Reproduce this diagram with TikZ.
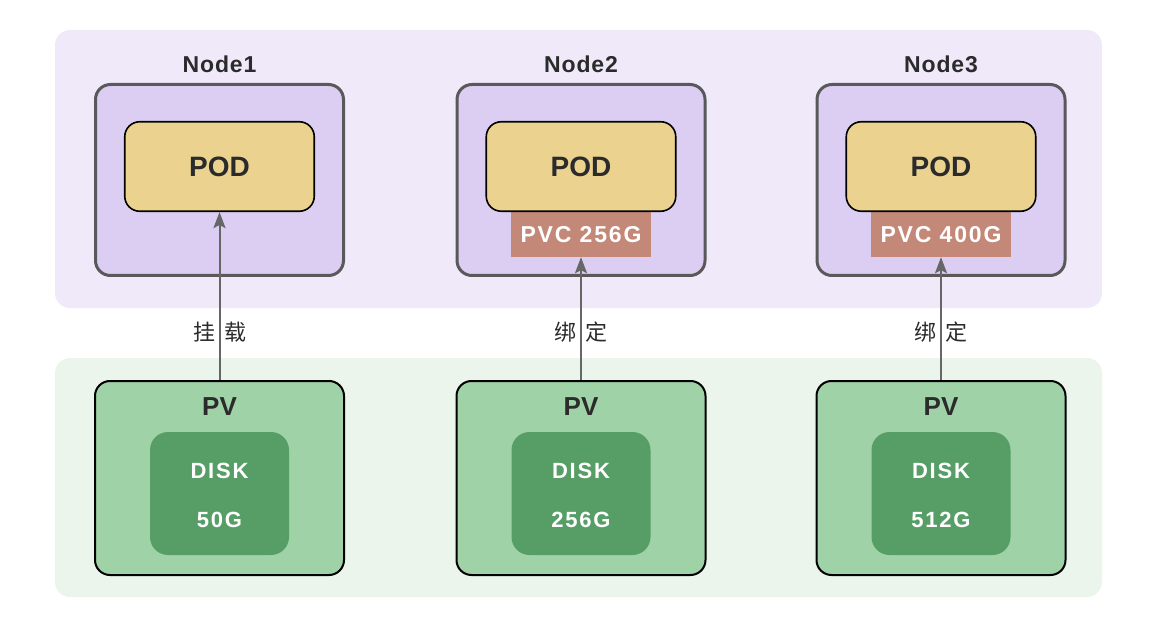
\documentclass[tikz,border=0pt]{standalone}
\usepackage{fontspec}
\setmainfont{Liberation Sans}
\newfontfamily\cjk{Noto Sans CJK SC}
\newfontfamily\spaced[LetterSpace=8]{Liberation Sans}
\newfontfamily\lspaced[LetterSpace=4]{Liberation Sans}
\usetikzlibrary{arrows.meta}
\definecolor{bgpurple}{HTML}{F0E9FA}
\definecolor{nodefill}{HTML}{DCCEF3}
\definecolor{nodeline}{HTML}{595959}
\definecolor{podfill}{HTML}{EBD28F}
\definecolor{pvcfill}{HTML}{C38878}
\definecolor{bggreen}{HTML}{EBF5EB}
\definecolor{pvfill}{HTML}{A0D2A8}
\definecolor{diskfill}{HTML}{579E66}
\definecolor{txt}{HTML}{2B2B2B}
\definecolor{arrowc}{HTML}{666666}
\tikzset{
  bg/.style={rectangle, rounded corners=15pt, draw=none, inner sep=0pt},
  nodebox/.style={rectangle, rounded corners=15pt, draw=nodeline, line width=3pt, fill=nodefill,
    minimum width=248pt, minimum height=191pt, inner sep=0pt},
  podbox/.style={rectangle, rounded corners=15pt, draw=black, line width=1.6pt, fill=podfill,
    minimum width=189.5pt, minimum height=89.5pt, inner sep=0pt, text=txt, font=\bfseries\fontsize{28}{32}\selectfont},
  pvcbox/.style={rectangle, fill=pvcfill, minimum width=140pt, minimum height=45pt, inner sep=0pt,
    text=white, font=\spaced\bfseries\fontsize{23}{26}\selectfont},
  pvbox/.style={rectangle, rounded corners=15pt, draw=black, line width=2pt, fill=pvfill,
    minimum width=249pt, minimum height=194pt, inner sep=0pt},
  diskbox/.style={rectangle, rounded corners=18pt, fill=diskfill, minimum width=139pt, minimum height=123pt, inner sep=0pt},
  nodelabel/.style={text=txt, font=\lspaced\bfseries\fontsize{23}{26}\selectfont, inner sep=0pt},
  pvlabel/.style={text=txt, font=\bfseries\fontsize{26}{30}\selectfont, inner sep=0pt},
  disklabel/.style={text=white, font=\spaced\bfseries\fontsize{22}{26}\selectfont, inner sep=0pt},
  rel/.style={text=txt, font=\cjk\fontsize{22}{26}\selectfont, inner sep=0pt},
  conn/.style={draw=arrowc, line width=2pt, -{Stealth[length=16pt,width=12pt,inset=3pt]}},
}
\begin{document}
\begin{tikzpicture}[x=1pt,y=-1pt]
\useasboundingbox (0,0) rectangle (1156,628);
\node[bg, fill=bgpurple, minimum width=1047pt, minimum height=278pt] (bgtop) at (578.5,169) {};
\node[bg, fill=bggreen, minimum width=1047pt, minimum height=239pt] (bgbot) at (578.5,477.5) {};

% columns
\node[nodelabel] (l1) at (219.5,64) {Node1};
\node[nodelabel] (l2) at (581,64) {Node2};
\node[nodelabel] (l3) at (941,64) {Node3};

\node[nodebox] (n1) at (219.5,180) {};
\node[nodebox] (n2) at (581,180) {};
\node[nodebox] (n3) at (941,180) {};

\node[pvcbox] (pvc2) at (581,234.5) {PVC 256G};
\node[pvcbox] (pvc3) at (941,234.5) {PVC 400G};

\node[podbox] (pod1) at (219.5,166.5) {POD};
\node[podbox] (pod2) at (581,166.5) {POD};
\node[podbox] (pod3) at (941,166.5) {POD};

\node[pvbox] (pv1) at (219.5,478) {};
\node[pvbox] (pv2) at (581,478) {};
\node[pvbox] (pv3) at (941,478) {};

\node[pvlabel] (pvt1) at (219.5,407) {PV};
\node[pvlabel] (pvt2) at (581,407) {PV};
\node[pvlabel] (pvt3) at (941,407) {PV};

\node[diskbox] (d1) at (219.5,493.5) {};
\node[diskbox] (d2) at (581,493.5) {};
\node[diskbox] (d3) at (941,493.5) {};

\node[disklabel] (dk1) at (219.5,471) {DISK};
\node[disklabel] (dk2) at (581,471) {DISK};
\node[disklabel] (dk3) at (941,471) {DISK};
\node[disklabel] (ds1) at (219.5,520) {50G};
\node[disklabel] (ds2) at (581,520) {256G};
\node[disklabel] (ds3) at (941,520) {512G};

\node[rel] (r1) at (219.5,332) {挂\hspace{9pt}载};
\node[rel] (r2) at (581,332) {绑\hspace{9pt}定};
\node[rel] (r3) at (941,332) {绑\hspace{9pt}定};

\draw[conn] (pv1.north) -- (pod1.south);
\draw[conn] (pv2.north) -- (pvc2.south);
\draw[conn] (pv3.north) -- (pvc3.south);
\end{tikzpicture}
\end{document}
